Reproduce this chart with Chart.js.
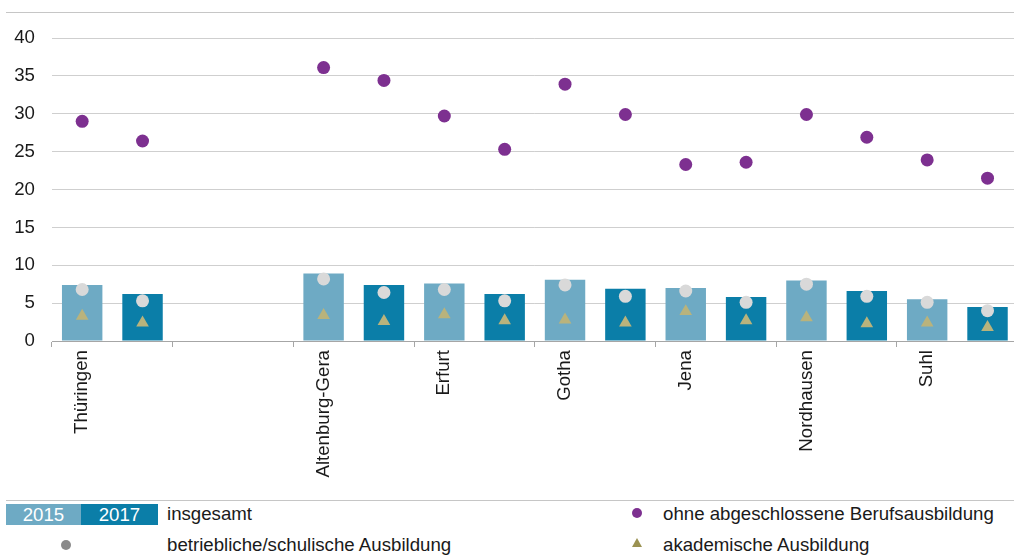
<!DOCTYPE html>
<html lang="de">
<head>
  <meta charset="UTF-8">
  <title>Thüringen Ausbildung</title>
  <script src="https://cdn.jsdelivr.net/npm/chart.js"></script>
  <style>
    body { margin: 0; background: #fff; font-family: "Liberation Sans", Arial, sans-serif; color: #1a1a1a; overflow: hidden; }
    #wrap { position: relative; width: 1014px; height: 557px; overflow: hidden; }
    #chart { position: absolute; left: 0; top: 0; }
    .rule { position: absolute; left: 6px; width: 1008px; height: 1px; background: #c6c6c6; }
    .lg { position: absolute; font-size: 18.67px; line-height: 22px; white-space: nowrap; }
    .yr { position: absolute; top: 504px; height: 21px; color: #fff; font-size: 18.67px; line-height: 21px; text-align: center; }
    .dot { position: absolute; border-radius: 50%; }
  </style>
</head>
<body>
  <div id="wrap">
    <div class="rule" style="top:12px"></div>
    <canvas id="chart" width="1025" height="495"></canvas>
    <div class="rule" style="top:500px"></div>

    <div class="yr" style="left:6px;width:75px;background:#6eaac4">2015</div>
    <div class="yr" style="left:81px;width:77px;background:#0b7ea8">2017</div>
    <div class="lg" style="left:167px;top:503px">insgesamt</div>

    <div class="dot" style="left:61px;top:540px;width:10px;height:10px;background:#8a8a8a"></div>
    <div class="lg" style="left:167px;top:534px">betriebliche/schulische Ausbildung</div>

    <div class="dot" style="left:632px;top:508px;width:10px;height:10px;background:#7d3090"></div>
    <div class="lg" style="left:663px;top:503px">ohne abgeschlossene Berufsausbildung</div>

    <div style="position:absolute;left:632px;top:538px;width:0;height:0;border-left:5px solid transparent;border-right:5px solid transparent;border-bottom:9px solid #9b9252"></div>
    <div class="lg" style="left:663px;top:534px">akademische Ausbildung</div>
  </div>

  <script>
    // one slot per bar: region 2015, region 2017; two empty slots after Thüringen
    const labels = ["Thüringen", "", "", "", "Altenburg-Gera", "", "Erfurt", "", "Gotha", "", "Jena", "", "Nordhausen", "", "Suhl", ""];
    const yearOfSlot = ["2015", "2017", "", "", "2015", "2017", "2015", "2017", "2015", "2017", "2015", "2017", "2015", "2017", "2015", "2017"];

    const insgesamt = [7.4, 6.2, null, null, 8.9, 7.4, 7.6, 6.2, 8.1, 6.9, 7.0, 5.8, 8.0, 6.6, 5.5, 4.5];
    const ohneAbschluss = [29.0, 26.4, null, null, 36.1, 34.4, 29.7, 25.3, 33.9, 29.9, 23.3, 23.6, 29.9, 26.9, 23.9, 21.5];
    const betrieblich = [6.8, 5.3, null, null, 8.2, 6.4, 6.8, 5.3, 7.4, 5.9, 6.6, 5.1, 7.5, 5.9, 5.1, 4.0];
    const akademisch = [3.3, 2.4, null, null, 3.4, 2.6, 3.5, 2.7, 2.8, 2.4, 3.9, 2.7, 3.1, 2.3, 2.4, 1.8];

    const yTicks = [0, 5, 10, 15, 20, 25, 30, 35, 40];

    const color2015 = '#6eaac4';
    const color2017 = '#0b7ea8';
    const font14pt = { family: '"Liberation Sans", Arial, sans-serif', size: 18.67 };

    const ctx = document.getElementById('chart').getContext('2d');
    new Chart(ctx, {
      type: 'bar',
      data: {
        labels: labels,
        datasets: [
          {
            label: 'ohne abgeschlossene Berufsausbildung',
            type: 'line',
            data: ohneAbschluss,
            showLine: false,
            pointStyle: 'circle',
            pointRadius: 6.5,
            pointBorderWidth: 0,
            pointBackgroundColor: '#7d3090',
            order: 1
          },
          {
            label: 'betriebliche/schulische Ausbildung',
            type: 'line',
            data: betrieblich,
            showLine: false,
            pointStyle: 'circle',
            pointRadius: 6.5,
            pointBorderWidth: 0,
            pointBackgroundColor: '#d9d9d9',
            order: 1
          },
          {
            label: 'akademische Ausbildung',
            type: 'line',
            data: akademisch,
            showLine: false,
            pointStyle: 'triangle',
            pointRadius: 7.3,
            pointBorderWidth: 0,
            pointBackgroundColor: '#b9b37c',
            order: 1
          },
          {
            label: 'insgesamt',
            data: insgesamt,
            backgroundColor: yearOfSlot.map(y => y === '2015' ? color2015 : color2017),
            barPercentage: 0.67,
            categoryPercentage: 1,
            order: 3
          }
        ]
      },
      options: {
        responsive: false,
        animation: false,
        layout: { padding: { top: 38, right: 0, bottom: 0, left: 0 } },
        plugins: {
          legend: { display: false },
          tooltip: { enabled: false }
        },
        scales: {
          x: {
            afterFit: (scale) => { scale.height = 154; },
            border: { color: '#a6a6a6', width: 1 },
            grid: {
              offset: true,
              drawOnChartArea: false,
              drawTicks: true,
              tickLength: 6,
              tickColor: (c) => (c.index % 2 === 0 ? '#a6a6a6' : 'rgba(0,0,0,0)')
            },
            ticks: {
              autoSkip: false,
              minRotation: 90,
              maxRotation: 90,
              padding: 3,
              color: '#1a1a1a',
              font: font14pt
            }
          },
          y: {
            min: 0,
            max: 40,
            afterFit: (scale) => { scale.width = 52; },
            afterBuildTicks: (scale) => { scale.ticks = yTicks.map(v => ({ value: v })); },
            border: { display: false },
            grid: { color: '#cfcfcf', lineWidth: 1, drawTicks: false },
            ticks: {
              padding: 17,
              color: '#1a1a1a',
              font: font14pt
            }
          }
        }
      }
    });
  </script>
</body>
</html>
